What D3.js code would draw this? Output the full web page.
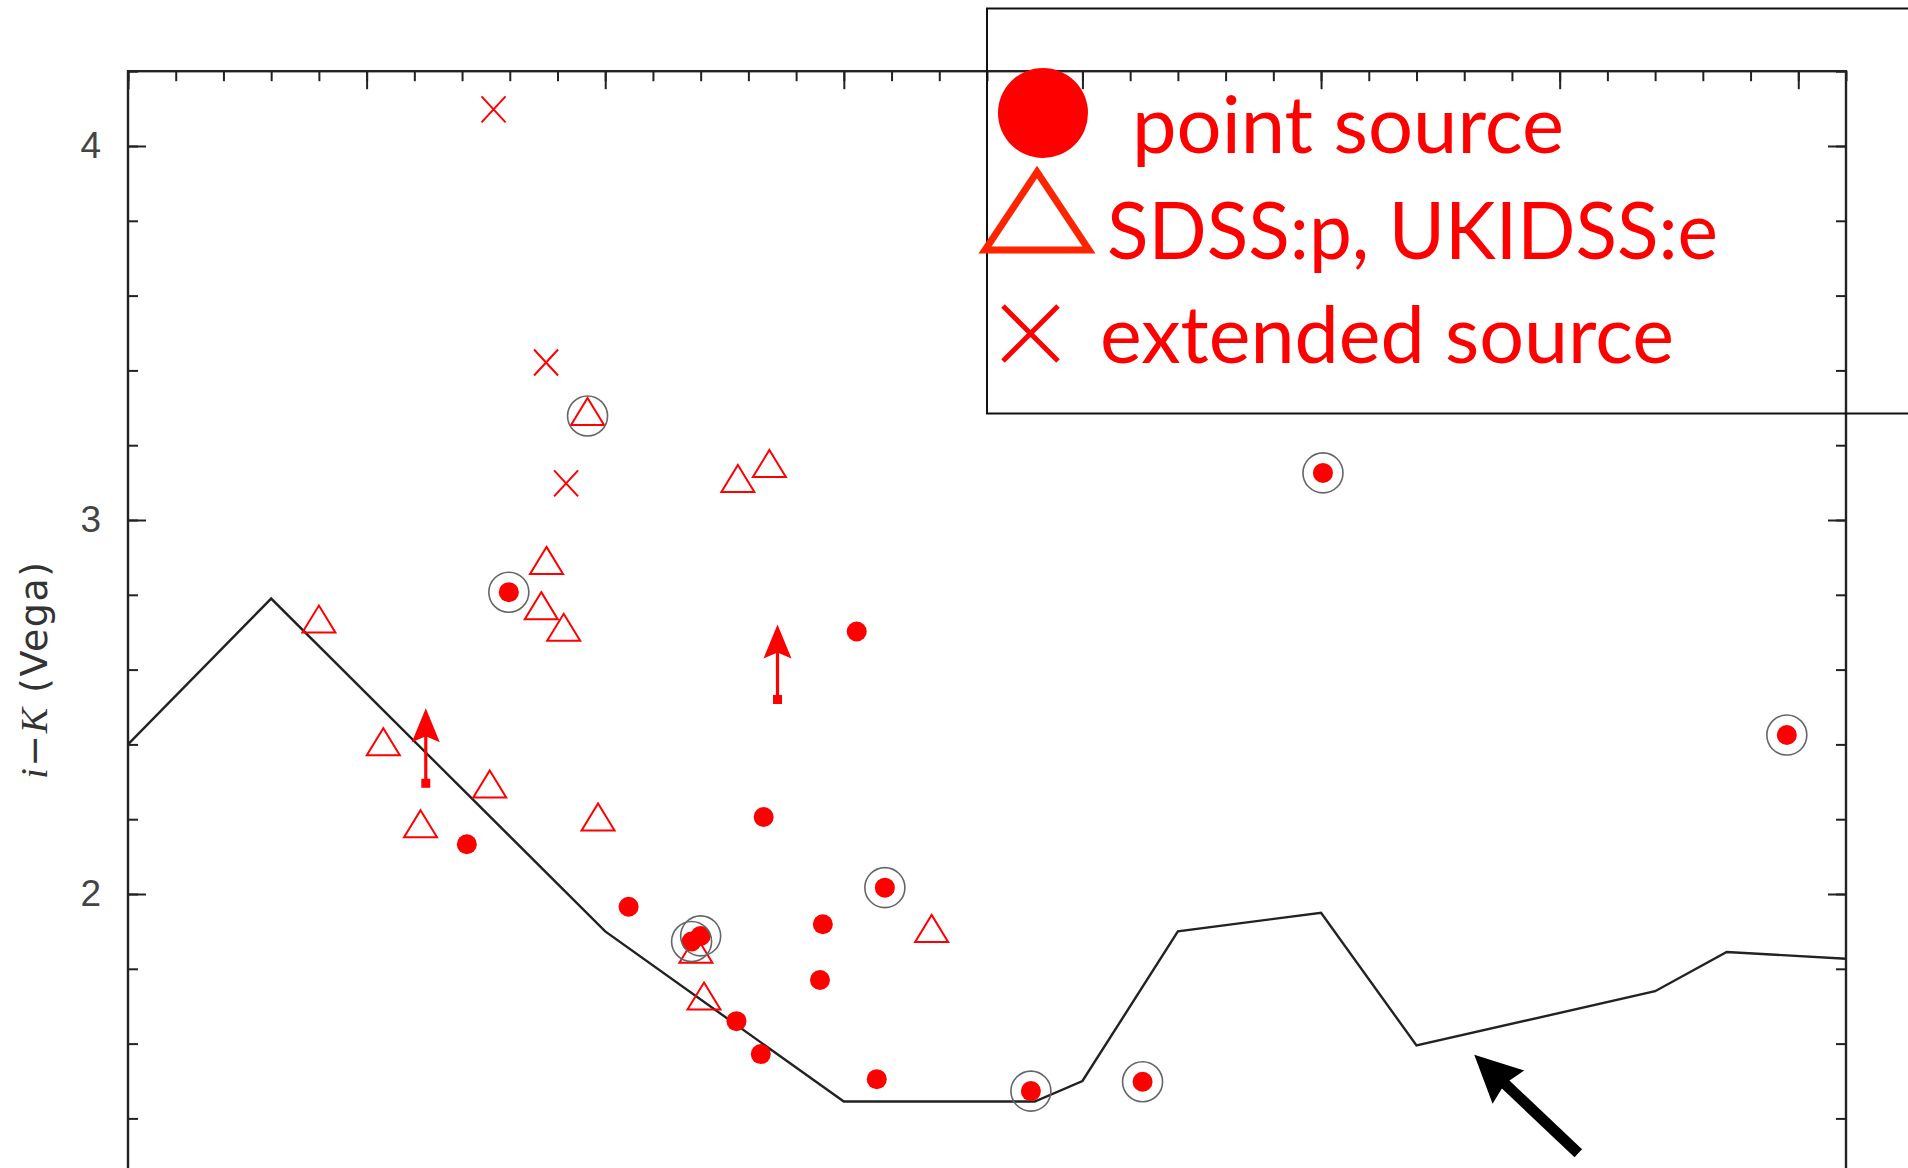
<!DOCTYPE html>
<html>
<head>
<meta charset="utf-8">
<script src="https://cdn.jsdelivr.net/npm/d3@7"></script>
<style>
  html, body { margin: 0; padding: 0; background: #fff; overflow: hidden; }
</style>
</head>
<body>
<div id="chart"></div>
<script>
// Model colour track (redshift vs i-K)
const trackZ = [0, 0.3, 1.0, 1.5, 1.9, 2.0, 2.2, 2.5, 2.7, 3.2, 3.35, 3.6];
const trackColor = [2.40, 2.79, 1.90, 1.445, 1.445, 1.50, 1.90, 1.95, 1.595, 1.74, 1.845, 1.827];

// point sources (filled circles), circled = ringed in grey
const pointX = [0.798, 0.710, 1.049, 1.181, 1.200, 1.275, 1.326, 1.332, 1.527, 1.456, 1.450, 1.586, 1.569, 1.892, 2.126, 2.504, 3.476];
const pointY = [2.807, 2.133, 1.966, 1.873, 1.888, 1.660, 1.572, 2.206, 2.702, 1.919, 1.770, 2.017, 1.505, 1.473, 1.498, 3.126, 2.425];
const pointCircled = [1, 0, 0, 1, 1, 0, 0, 0, 0, 0, 0, 1, 0, 1, 1, 1, 1];

// SDSS:p, UKIDSS:e (open triangles)
const triX = [0.400, 0.535, 0.613, 0.758, 0.877, 0.866, 0.913, 0.963, 0.985, 1.278, 1.344, 1.190, 1.207, 1.684];
const triY = [2.723, 2.395, 2.176, 2.282, 2.880, 2.759, 2.701, 3.278, 2.194, 3.099, 3.139, 1.840, 1.715, 1.896];
const triCircled = [0, 0, 0, 0, 0, 0, 0, 1, 0, 0, 0, 0, 0, 0];

// extended sources (crosses)
const extX = [0.766, 0.876, 0.918];
const extY = [4.098, 3.421, 3.098];

// lower limits (arrows up)
const limitX = [0.624, 1.361];
const limitY = [2.296, 2.520];

// annotation arrow: tail -> tip
const noteTail = [3.039, 1.307];
const noteTip = [2.821, 1.570];

const yTickLabels = [2, 3, 4];
const legendLabels = ["point source", "SDSS:p, UKIDSS:e", "extended source"];

const width = 1908, height = 1168;
const plotLeft = 128, plotRight = 1846, plotTop = 71.2;

const svg = d3.select("#chart").append("svg")
    .attr("width", width)
    .attr("height", height);

const x = d3.scaleLinear().domain([0, 3.6]).range([plotLeft, plotRight]);
const y = d3.scaleLinear().domain([1.0, 4.2]).range([plotTop + 3.2 * 374, plotTop]);

const red = "#ff0000";

// axes: major + minor ticks, all pointing inward
const minorX = d3.range(0, 3.61, 0.1).map(v => +v.toFixed(1));
const majorX = d3.range(0, 3.61, 0.5);
const minorY = d3.range(1.0, 4.21, 0.2).map(v => +v.toFixed(1));

function tickAxis(g, axis) {
    g.call(axis);
    g.select(".domain").remove();
    g.selectAll(".tick line").attr("stroke", "#222").attr("stroke-width", 2);
}

svg.append("g").attr("transform", `translate(0,${plotTop})`)
    .call(g => tickAxis(g, d3.axisTop(x).tickValues(minorX).tickSize(-10).tickFormat("")));
svg.append("g").attr("transform", `translate(0,${plotTop})`)
    .call(g => tickAxis(g, d3.axisTop(x).tickValues(majorX).tickSize(-18).tickFormat("")));

svg.append("g").attr("transform", `translate(${plotLeft},0)`)
    .call(g => tickAxis(g, d3.axisLeft(y).tickValues(minorY).tickSize(-10).tickFormat("")));
const yAxis = svg.append("g").attr("transform", `translate(${plotLeft},0)`);
tickAxis(yAxis, d3.axisLeft(y).tickValues(yTickLabels).tickSize(-18).tickPadding(27).tickFormat(d3.format("d")));
yAxis.selectAll(".tick text")
    .attr("font-family", "Liberation Sans, Arial, sans-serif")
    .attr("font-size", 37)
    .attr("fill", "#444");

svg.append("g").attr("transform", `translate(${plotRight},0)`)
    .call(g => tickAxis(g, d3.axisRight(y).tickValues(minorY).tickSize(-10).tickFormat("")));
svg.append("g").attr("transform", `translate(${plotRight},0)`)
    .call(g => tickAxis(g, d3.axisRight(y).tickValues(yTickLabels).tickSize(-18).tickFormat("")));

// frame
svg.append("rect")
    .attr("x", plotLeft).attr("y", plotTop)
    .attr("width", plotRight - plotLeft).attr("height", y(1.0) - plotTop + 10)
    .attr("fill", "none")
    .attr("stroke", "#222")
    .attr("stroke-width", 2.4);

// y label
const ylab = svg.append("text")
    .attr("transform", `translate(47,${y(2.6)}) rotate(-90)`)
    .attr("text-anchor", "middle")
    .attr("font-size", 38)
    .attr("letter-spacing", 1.5)
    .attr("fill", "#333")
    .attr("font-family", "DejaVu Sans, sans-serif");
ylab.append("tspan").attr("font-family", "Liberation Serif, serif").attr("font-style", "italic").text("i");
ylab.append("tspan").text("\u2212");
ylab.append("tspan").attr("font-family", "Liberation Serif, serif").attr("font-style", "italic").text("K");
ylab.append("tspan").text(" (Vega)");

// model track
const line = d3.line().x(d => x(d[0])).y(d => y(d[1]));
svg.append("path")
    .datum(trackZ.map((z, i) => [z, trackColor[i]]))
    .attr("d", line)
    .attr("fill", "none")
    .attr("stroke", "#222")
    .attr("stroke-width", 2.4)
    .attr("stroke-linejoin", "miter");

// triangles
const triPath = "M0,-18L16.5,9L-16.5,9Z";
svg.append("g").selectAll("path")
    .data(triX.map((v, i) => ({ x: v, y: triY[i] })))
    .enter().append("path")
    .attr("transform", d => `translate(${x(d.x)},${y(d.y)})`)
    .attr("d", triPath)
    .attr("fill", "none")
    .attr("stroke", red)
    .attr("stroke-width", 2);

// crosses
svg.append("g").selectAll("path")
    .data(extX.map((v, i) => ({ x: v, y: extY[i] })))
    .enter().append("path")
    .attr("transform", d => `translate(${x(d.x)},${y(d.y)})`)
    .attr("d", "M-12,-13L12,13M12,-13L-12,13")
    .attr("fill", "none")
    .attr("stroke", red)
    .attr("stroke-width", 2);

// filled dots
svg.append("g").selectAll("circle")
    .data(pointX.map((v, i) => ({ x: v, y: pointY[i] })))
    .enter().append("circle")
    .attr("cx", d => x(d.x))
    .attr("cy", d => y(d.y))
    .attr("r", 10)
    .attr("fill", red);

// lower limit arrows
const limits = svg.append("g").selectAll("g")
    .data(limitX.map((v, i) => ({ x: v, y: limitY[i] })))
    .enter().append("g")
    .attr("transform", d => `translate(${x(d.x)},${y(d.y)})`);
limits.append("rect").attr("x", -4.5).attr("y", -4.5).attr("width", 9).attr("height", 9).attr("fill", red);
limits.append("line").attr("x1", 0).attr("y1", 0).attr("x2", 0).attr("y2", -50)
    .attr("stroke", red).attr("stroke-width", 3.2);
limits.append("path").attr("d", "M0,-75L14,-41L0,-47L-14,-41Z").attr("fill", red);

// grey rings
const rings = pointX.map((v, i) => ({ x: v, y: pointY[i], c: pointCircled[i] }))
    .concat(triX.map((v, i) => ({ x: v, y: triY[i], c: triCircled[i] })))
    .filter(d => d.c);
svg.append("g").selectAll("circle")
    .data(rings)
    .enter().append("circle")
    .attr("cx", d => x(d.x))
    .attr("cy", d => y(d.y))
    .attr("r", 20)
    .attr("fill", "none")
    .attr("stroke", "#666")
    .attr("stroke-width", 1.6);

// annotation arrow (black)
const ax0 = x(noteTail[0]), ay0 = y(noteTail[1]);
const ax1 = x(noteTip[0]), ay1 = y(noteTip[1]);
const ang = Math.atan2(ay1 - ay0, ax1 - ax0);
const len = Math.hypot(ax1 - ax0, ay1 - ay0);
const note = svg.append("g")
    .attr("transform", `translate(${ax0},${ay0}) rotate(${ang * 180 / Math.PI})`);
note.append("line").attr("x1", 0).attr("y1", 0).attr("x2", len - 40).attr("y2", 0)
    .attr("stroke", "#000").attr("stroke-width", 11);
note.append("path")
    .attr("d", `M${len},0L${len - 47},-23L${len - 42},0L${len - 47},23Z`)
    .attr("fill", "#000");

// legend box
const legend = svg.append("g");
legend.append("rect")
    .attr("x", 987).attr("y", 8.5)
    .attr("width", 1000).attr("height", 405)
    .attr("fill", "none")
    .attr("stroke", "#111")
    .attr("stroke-width", 2);
legend.append("circle").attr("cx", 1043).attr("cy", 113).attr("r", 45).attr("fill", red);
legend.append("path")
    .attr("d", "M1037,172L1089,250L985,250Z")
    .attr("fill", "none")
    .attr("stroke", "#ff2400")
    .attr("stroke-width", 7);
legend.append("path")
    .attr("d", "M1003,306L1058,361M1058,306L1003,361")
    .attr("stroke", red)
    .attr("stroke-width", 5);

const legendPos = [[1132, 153, 432], [1107, 259, 611], [1100, 363, 574]];
legend.selectAll("text.lab")
    .data(legendLabels)
    .enter().append("text")
    .attr("class", "lab")
    .attr("x", (d, i) => legendPos[i][0])
    .attr("y", (d, i) => legendPos[i][1])
    .attr("textLength", (d, i) => legendPos[i][2])
    .attr("lengthAdjust", "spacingAndGlyphs")
    .attr("font-family", "Lato, 'Open Sans', sans-serif")
    .attr("font-size", 80)
    .attr("fill", red)
    .text(d => d);
</script>
</body>
</html>
